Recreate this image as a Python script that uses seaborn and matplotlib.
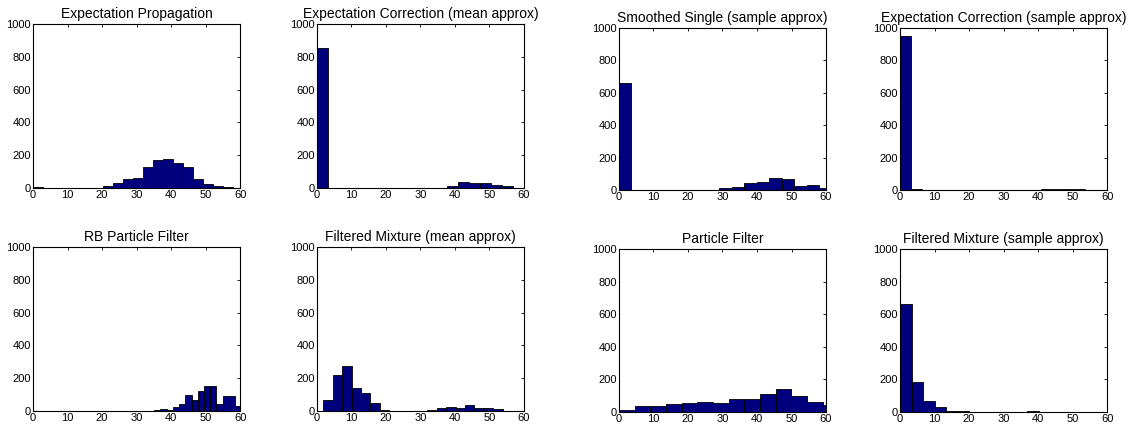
#!/usr/bin/python
"""Histograms of the eight inference methods, Matlab style."""
import numpy as np
import pandas as pd
import matplotlib
matplotlib.use('Agg')
import matplotlib.pyplot as plt
import seaborn as sns

sns.set_theme(style='white')
plt.rcParams['font.family'] = ['Liberation Sans', 'DejaVu Sans']
plt.rcParams['xtick.direction'] = 'in'
plt.rcParams['ytick.direction'] = 'in'
plt.rcParams['text.color'] = 'black'

titles = ['Expectation Propagation', 'Expectation Correction (mean approx)',
          'Smoothed Single (sample approx)', 'Expectation Correction (sample approx)',
          'RB Particle Filter', 'Filtered Mixture (mean approx)',
          'Particle Filter', 'Filtered Mixture (sample approx)']

# bin counts
ep = [5, 1, 1, 0, 1, 2, 3, 12, 33, 57, 61, 128, 173, 179, 153, 128, 57, 22, 12, 4]
ec_mean = [855, 0, 0, 0, 0, 0, 0, 0, 1, 0, 1, 3, 15, 35, 33, 33, 20, 10]
ss_sample = [660, 3, 1, 2, 2, 2, 2, 2, 10, 20, 45, 50, 72, 70, 22, 30, 10]
ec_sample = [952, 5, 1, 3, 1, 2, 1, 1, 2, 1, 3, 1, 3, 5, 9, 6, 4, 3, 3]
rbpf = [0] * 17 + [1, 2, 5, 10, 5, 25, 45, 100, 65, 120, 155, 150, 45, 90, 92, 32]
fm_mean = [67, 220, 274, 138, 108, 47, 5, 1, 1, 1, 3, 5, 16, 26, 20, 37, 18, 20, 12, 3]
pf = [10, 35, 35, 52, 58, 62, 58, 82, 78, 108, 140, 98, 62, 40]
fm_sample = [665, 185, 70, 30, 8, 5, 3, 2, 2, 3, 3, 8, 2, 2, 2, 1, 3, 2]

all_counts = [ep, ec_mean, ss_sample, ec_sample, rbpf, fm_mean, pf, fm_sample]
# (first edge, bin width) of each histogram
bin_specs = [(0, 2.9), (0, 3.15), (0, 3.625), (0, 3.15),
             (0.67, 1.81), (1.8, 2.74), (0, 4.54), (0, 3.35)]

# axes rectangles in figure fractions
lefts = [0.0292, 0.2800, 0.5468, 0.7951]
rects = []
for row, (bottom, height) in enumerate([(0.5607, 0.3832), (0.0397, 0.3832)]):
    for col, left in enumerate(lefts):
        if col >= 2:
            b, h = (0.5561, 0.3785) if row == 0 else (0.0374, 0.381)
        else:
            b, h = bottom, height
        rects.append([left, b, 0.1829, h])

fig = plt.figure(figsize=(11.32, 4.28), dpi=100)

for title, counts, (start, width), rect in zip(titles, all_counts, bin_specs, rects):
    ax = fig.add_axes(rect)
    edges = start + width * np.arange(len(counts) + 1)
    df = pd.DataFrame({'center': (edges[:-1] + edges[1:]) / 2,
                       'count': np.array(counts, dtype=float)})
    sns.histplot(data=df, x='center', weights='count', bins=list(edges), ax=ax,
                 color='#00007f', edgecolor='black', linewidth=0.6, alpha=1)
    ax.set_xlim(0, 60)
    ax.set_ylim(0, 1000)
    ax.set_xticks(range(0, 61, 10))
    ax.set_yticks(range(0, 1001, 200))
    ax.set_xlabel('')
    ax.set_ylabel('')
    ax.set_title(title, fontsize=10, pad=4, color='black')
    ax.tick_params(axis='both', labelsize=8, length=2.5, width=0.6,
                   top=True, right=True, pad=1.5, colors='black')
    for s in ax.spines.values():
        s.set_linewidth(0.8)
        s.set_color('black')

fig.savefig('out.png', dpi=100)
